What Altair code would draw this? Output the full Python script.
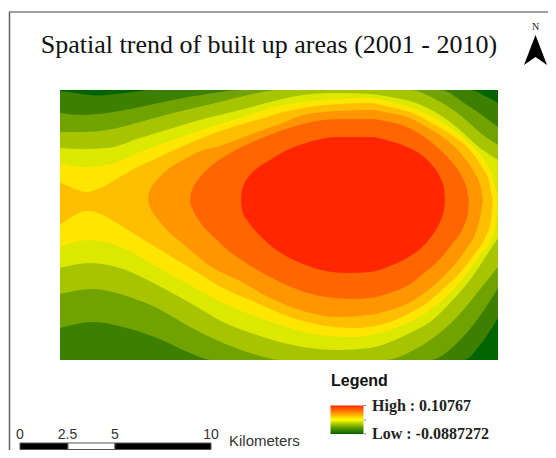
import altair as alt
import pandas as pd

# Map coordinates in picture units (x right, y down).
MID = 200
MAP_X = [60, 498]
MAP_Y = [90, 360]
BASE_COLOR = "#006400"

band_colors = ["#3d8000", "#70a300", "#a6c400", "#dce800", "#ffe600",
               "#ffbf00", "#ff9500", "#ff6600", "#ff2600"]

g1_top_x = [60, 75, 97, 125, 153, 300, 470, 485, 498]
g1_top_y = [91, 93, 95.5, 93, 90, 90, 90, 96, 103]
g1_bot_x = [60, 300, 464, 480, 498]
g1_bot_y = [360, 360, 360, 345, 318]

g2_top_x = [60, 83, 107, 140, 173, 207, 240, 300, 440, 467, 498]
g2_top_y = [113, 115, 113, 107, 100, 94, 90, 90, 90, 105, 127]
g2_bot_x = [60, 93, 123, 157, 190, 212, 430, 457, 477, 498]
g2_bot_y = [328, 322, 327, 338, 353, 360, 360, 343, 320, 288]

g3_top_x = [60, 83, 107, 140, 173, 207, 240, 280, 340, 410, 433, 460, 483, 498]
g3_top_y = [132, 132, 130, 122, 113, 105, 97, 90, 90, 90, 98, 115, 135, 145]
g3_bot_x = [60, 93, 123, 157, 190, 223, 257, 280, 385, 410, 433, 457, 477, 498]
g3_bot_y = [294, 289, 295, 308, 327, 343, 355, 360, 360, 352, 338, 317, 293, 267]

g4_top_x = [60, 83, 107, 140, 173, 207, 240, 270, 303, 337, 370, 390, 413, 437, 460, 480, 498]
g4_top_y = [148, 149, 148, 138, 128, 118, 110, 102, 95, 93, 94, 97, 102, 113, 130, 148, 160]
g4_bot_x = [60, 90, 123, 157, 190, 223, 257, 303, 337, 370, 390, 410, 430, 450, 470, 490, 498]
g4_bot_y = [268, 263, 269, 285, 303, 322, 335, 347, 350, 348, 342, 333, 322, 303, 280, 250, 238]

g5_top_x = [60, 83, 107, 140, 173, 207, 240, 270, 303, 337, 370, 390, 410, 433, 455, 473, 486, 493, 497, 497.5]
g5_top_y = [163, 167, 165, 152, 140, 128, 118, 108, 102, 99, 98, 102, 107, 117, 131, 147, 163, 178, 197, 200]
g5_bot_x = [60, 90, 123, 157, 190, 223, 257, 287, 320, 353, 390, 410, 430, 447, 465, 481, 491, 496, 497.5]
g5_bot_y = [247, 240, 248, 267, 285, 303, 317, 327, 335, 337, 330, 322, 310, 296, 276, 254, 240, 223, 200]

g6_top_x = [60, 75, 87, 98, 115, 132, 157, 190, 223, 257, 280, 303, 337, 370, 390, 410, 430, 450, 470, 482, 489, 492, 492.7]
g6_top_y = [182, 189, 192, 189, 180, 170, 158, 143, 130, 120, 113, 108, 104, 103, 107, 112, 122, 134, 150, 167, 181, 197, 200]
g6_bot_x = [60, 75, 87, 98, 115, 123, 157, 190, 223, 257, 287, 320, 353, 390, 410, 427, 443, 460, 473, 484, 491, 492.7]
g6_bot_y = [225, 215, 211, 213, 222, 227, 248, 268, 288, 303, 316, 325, 328, 322, 313, 303, 289, 273, 256, 240, 220, 200]

g7_top_x = [148, 148.5, 150, 153, 157, 167, 183, 198, 223, 257, 280, 303, 337, 370, 390, 410, 430, 448, 463, 474, 481, 483]
g7_top_y = [200, 195, 190, 185, 180, 170, 160, 152, 145, 132, 124, 115, 111, 110, 113, 118, 129, 141, 156, 172, 188, 200]
g7_bot_x = [148, 148.5, 150, 157, 170, 183, 195, 207, 240, 270, 303, 337, 370, 390, 407, 423, 440, 455, 467, 476, 481, 483]
g7_bot_y = [200, 203, 207, 218, 233, 244, 254, 264, 281, 298, 311, 317, 315, 310, 304, 294, 280, 264, 248, 232, 213, 200]

g8_top_x = [190, 190.5, 192, 198, 210, 227, 257, 280, 303, 337, 370, 390, 407, 423, 437, 450, 461, 467, 469]
g8_top_y = [200, 195, 190, 180, 167, 155, 140, 131, 124, 119, 119, 122, 127, 136, 147, 160, 175, 190, 200]
g8_bot_x = [190, 190.5, 192, 200, 215, 230, 240, 280, 320, 353, 370, 390, 407, 423, 440, 453, 463, 468, 469]
g8_bot_y = [200, 204, 208, 222, 238, 252, 259, 282, 296, 299, 298, 293, 286, 274, 259, 243, 228, 213, 200]

g9_top_x = [241, 241.5, 243, 247, 253, 270, 287, 303, 337, 370, 390, 407, 423, 432, 440, 444, 445]
g9_top_y = [200, 193, 187, 179, 172, 160, 150, 144, 137, 137, 141, 147, 156, 165, 177, 188, 200]
g9_bot_x = [241, 241.5, 243, 247, 253, 270, 303, 347, 370, 390, 407, 420, 431, 439, 444, 445]
g9_bot_y = [200, 206, 213, 220, 228, 245, 264, 273, 272, 266, 258, 249, 237, 224, 210, 200]

bands = [
    (g1_top_x, g1_top_y, g1_bot_x, g1_bot_y),
    (g2_top_x, g2_top_y, g2_bot_x, g2_bot_y),
    (g3_top_x, g3_top_y, g3_bot_x, g3_bot_y),
    (g4_top_x, g4_top_y, g4_bot_x, g4_bot_y),
    (g5_top_x, g5_top_y, g5_bot_x, g5_bot_y),
    (g6_top_x, g6_top_y, g6_bot_x, g6_bot_y),
    (g7_top_x, g7_top_y, g7_bot_x, g7_bot_y),
    (g8_top_x, g8_top_y, g8_bot_x, g8_bot_y),
    (g9_top_x, g9_top_y, g9_bot_x, g9_bot_y),
]

title_text = "Spatial trend of built up areas (2001 - 2010)"
scale_labels = ["0", "2.5", "5", "10"]
scale_label_x = [20, 67.5, 115, 211]
scale_seg_x = [20, 68, 115]
scale_seg_x2 = [68, 115, 211]
scale_seg_fill = ["#000000", "#ffffff", "#000000"]
arrow_x = [524, 535.5, 547]
arrow_top = [65, 35, 65]
arrow_bot = [65, 57, 65]
legend_ticks_y = [405.5, 420, 434]

sx = alt.Scale(domain=[8, 548], range=[0, 540], nice=False, zero=False)
sy = alt.Scale(domain=[8, 450], range=[0, 442], nice=False, zero=False)
X = lambda f="x": alt.X(f"{f}:Q", scale=sx, axis=None)
Y = lambda f="y": alt.Y(f"{f}:Q", scale=sy, axis=None)

layers = []

base = pd.DataFrame({"x": [MAP_X[0]], "x2": [MAP_X[1]], "y": [MAP_Y[0]], "y2": [MAP_Y[1]]})
layers.append(alt.Chart(base).mark_rect(color=BASE_COLOR).encode(
    x=X(), x2="x2:Q", y=Y(), y2="y2:Q"))

for (tx, ty, bx, by), col in zip(bands, band_colors):
    for xs, ys in ((tx, ty), (bx, by)):
        df = pd.DataFrame({"x": xs, "y": ys, "m": [MID] * len(xs)})
        layers.append(alt.Chart(df).mark_area(color=col, interpolate="monotone").encode(
            x=X(), y=Y(), y2="m:Q"))

# frame
frame_top = pd.DataFrame({"x": [9], "x2": [548], "y": [12]})
layers.append(alt.Chart(frame_top).mark_rule(color="#808080", strokeWidth=1.5).encode(
    x=X(), x2="x2:Q", y=Y()))
frame_left = pd.DataFrame({"x": [9.5], "y": [12], "y2": [450]})
layers.append(alt.Chart(frame_left).mark_rule(color="#606060", strokeWidth=1.5).encode(
    x=X(), y=Y(), y2="y2:Q"))

# north arrow
arrow = pd.DataFrame({"x": arrow_x, "y": arrow_top, "y2": arrow_bot})
layers.append(alt.Chart(arrow).mark_area(color="#000000").encode(
    x=X(), y=Y(), y2="y2:Q"))

# legend ramp
ramp = pd.DataFrame({"x": [330.5], "x2": [363.5], "y": [405.5], "y2": [434]})
layers.append(alt.Chart(ramp).mark_rect(
    color=alt.Gradient(
        gradient="linear", x1=0, x2=0, y1=0, y2=1,
        stops=[alt.GradientStop(color="#ff2600", offset=0),
               alt.GradientStop(color="#ff8c00", offset=0.25),
               alt.GradientStop(color="#ffff00", offset=0.5),
               alt.GradientStop(color="#70a300", offset=0.75),
               alt.GradientStop(color="#006400", offset=1)])
).encode(x=X(), x2="x2:Q", y=Y(), y2="y2:Q"))
ticks = pd.DataFrame({"x": [363.5] * 3, "x2": [366] * 3, "y": legend_ticks_y})
layers.append(alt.Chart(ticks).mark_rule(color="#888888", strokeWidth=1).encode(
    x=X(), x2="x2:Q", y=Y()))

# scale bar (the page margin ends at 450, so it sits just above that)
segs = pd.DataFrame({"x": scale_seg_x, "x2": scale_seg_x2, "f": scale_seg_fill,
                     "y": [443] * 3, "y2": [449.5] * 3})
layers.append(alt.Chart(segs).mark_rect(stroke="#555555", strokeWidth=1).encode(
    x=X(), x2="x2:Q", y=Y(), y2="y2:Q",
    fill=alt.Fill("f:N", scale=None)))

# texts
def text(rows, **kw):
    df = pd.DataFrame(rows, columns=["t", "x", "y"])
    return alt.Chart(df).mark_text(baseline="middle", **kw).encode(
        x=X(), y=Y(), text="t:N")

layers.append(text([(title_text, 269, 45)], font="Liberation Serif", fontSize=26,
                   align="center", color="#111111"))
layers.append(text([("N", 535.5, 27)], font="Liberation Serif", fontSize=10,
                   align="center", color="#222222"))
layers.append(text([("Legend", 331, 381)], font="Liberation Sans", fontSize=16,
                   fontWeight="bold", align="left", color="#111111"))
layers.append(text([("High : 0.10767", 372, 406), ("Low : -0.0887272", 372, 434)],
                   font="Liberation Serif", fontSize=16, fontWeight="bold",
                   align="left", color="#222222"))
layers.append(text(list(zip(scale_labels, scale_label_x, [435] * 4)),
                   font="Liberation Sans", fontSize=14, align="center", color="#333333"))
layers.append(text([("Kilometers", 229, 441)], font="Liberation Sans", fontSize=15,
                   align="left", color="#333333"))

chart = alt.layer(*layers).properties(
    width=540, height=442, padding=0, autosize="none", background="#ffffff"
).configure_view(stroke=None)

chart.save("out.html", embed_options={"renderer": "svg", "actions": False})
